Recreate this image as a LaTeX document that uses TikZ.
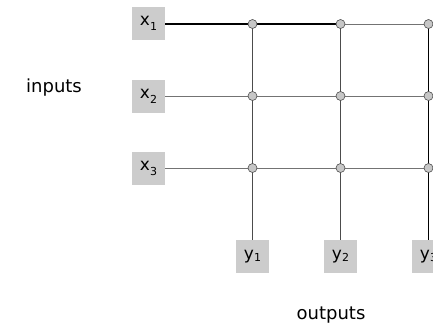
\documentclass[tikz,border=0pt]{standalone}
\usepackage{fontspec}
\setmainfont{DejaVu Sans}
\newcommand{\subidx}[2]{\raisebox{#1}{\fontsize{11}{12}\selectfont #2}}
\begin{document}
\begin{tikzpicture}[x=1pt,y=-1pt,
  port/.style={fill=black!20,minimum size=33pt,inner sep=0pt,font=\fontsize{17}{19}\selectfont},
  junction/.style={circle,draw=black!70,fill=black!22,line width=0.6pt,minimum size=9pt,inner sep=0pt},
  rowline/.style={draw=black!55,line width=0.8pt},
  colline/.style={draw=black!70,line width=0.8pt},
  hot/.style={draw=black,line width=1.2pt},
  lab/.style={font=\fontsize{18}{20}\selectfont}]
\useasboundingbox (0,0) rectangle (433,325);

% input and output ports
\node[port] (x1) at (148.5,23.5) {x\subidx{-0.5ex}{1}};
\node[port] (x2) at (148.5,96.5) {x\subidx{-0.5ex}{2}};
\node[port] (x3) at (148.5,168.5) {x\subidx{-0.5ex}{3}};
\node[port] (y1) at (252.5,256.5) {y\subidx{-0.2ex}{1}};
\node[port] (y2) at (340.5,256.5) {y\subidx{-0.2ex}{2}};
\node[port] (y3) at (428.5,256.5) {y\subidx{-0.2ex}{3}};

% crossbar junction points
\foreach \r/\yy in {1/24,2/96,3/168}{
  \foreach \c/\xx in {1/252.5,2/340.5,3/428.5}{
    \coordinate (j\r\c) at (\xx,\yy);
  }
  \coordinate (e\r) at (433,\yy);
}

% row wires
\draw[rowline] (x2.east |- j21) -- (e2);
\draw[rowline] (x3.east |- j31) -- (e3);
\draw[rowline] (j12) -- (e1);
\draw[hot] (x1.east |- j11) -- (j12);

% column wires
\draw[colline] (j11) -- (y1.north);
\draw[colline] (j12) -- (y2.north);
\draw[hot,line width=1pt] (j13) -- (y3.north);

% junction markers
\foreach \r in {1,2,3}{
  \foreach \c in {1,2,3}{
    \node[junction] at (j\r\c) {};
  }
}

\node[lab] (inp) at (54,88) {inputs};
\node[lab] (outp) at (331,315) {outputs};
\end{tikzpicture}
\end{document}
